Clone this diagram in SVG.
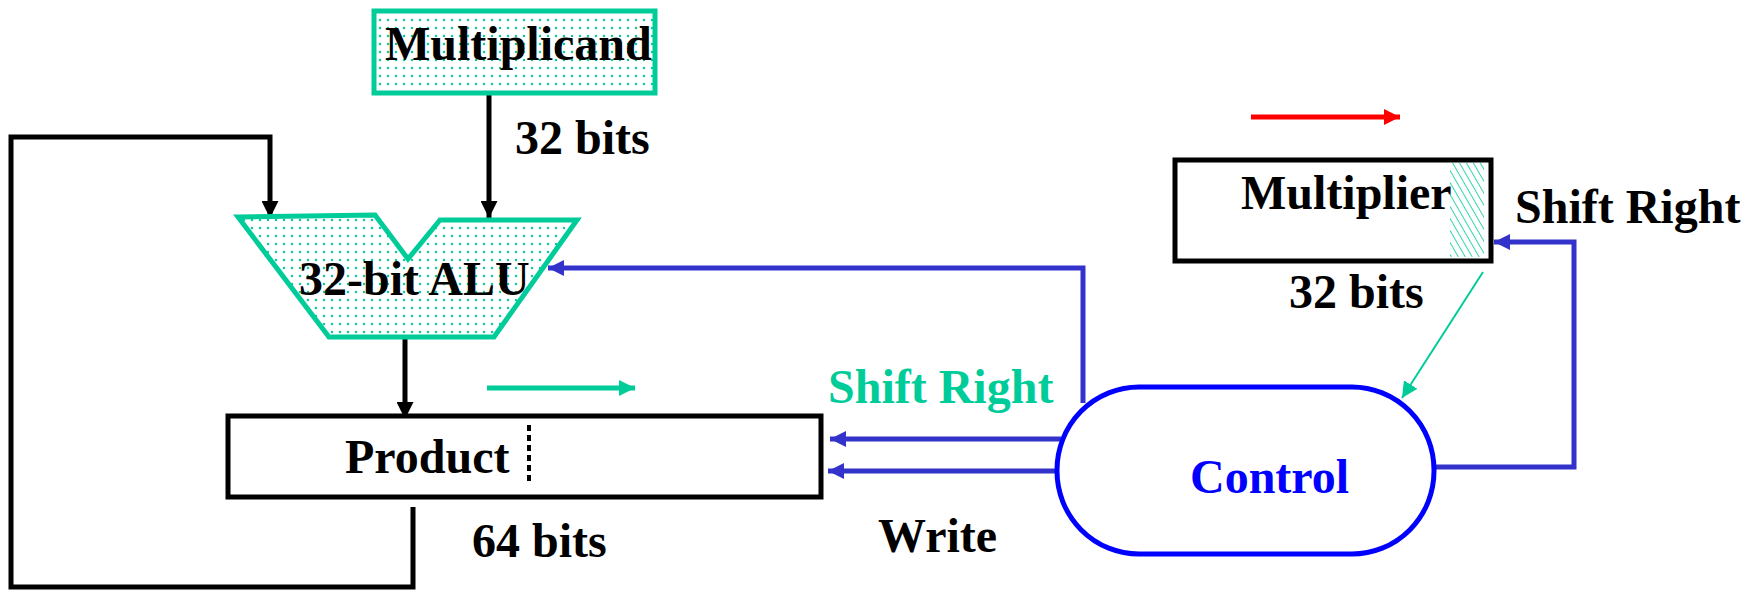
<svg xmlns="http://www.w3.org/2000/svg" width="1759" height="590" viewBox="0 0 1759 590">
  <style>
    .lbl { font-family: "Liberation Serif", "Times New Roman", serif; font-weight: bold; font-size: 48px; fill: #000; }
    .teal-lbl { fill: #00cc99; }
    .blue-lbl { fill: #0000ff; }
    .wire { fill: none; stroke: #000; stroke-width: 5; }
    .bus { fill: none; stroke: #3333cc; stroke-width: 5; }
    .reg { fill: #fff; stroke: #000; stroke-width: 5; }
    .unit { fill: url(#dots); stroke: #00cc99; stroke-width: 5; stroke-linejoin: miter; }
  </style>
  <defs>
    <pattern id="dots" width="8" height="8" patternUnits="userSpaceOnUse">
      <rect width="8" height="8" fill="#fff"/>
      <circle cx="4" cy="4" r="1.2" fill="#00cc99"/>
    </pattern>
    <pattern id="hatch" width="6" height="6" patternUnits="userSpaceOnUse" patternTransform="rotate(-30)">
      <rect width="6" height="6" fill="#fff"/>
      <line x1="0" y1="0" x2="0" y2="6" stroke="#00cc99" stroke-width="1.6"/>
    </pattern>
    <marker id="arrBlack" viewBox="0 0 16 16" refX="16" refY="8" markerWidth="17" markerHeight="17" markerUnits="userSpaceOnUse" orient="auto">
      <path d="M0,0 L16,8 L0,16 Z" fill="#000"/>
    </marker>
    <marker id="arrBlue" viewBox="0 0 16 16" refX="16" refY="8" markerWidth="16" markerHeight="16" markerUnits="userSpaceOnUse" orient="auto">
      <path d="M0,0 L16,8 L0,16 Z" fill="#3333cc"/>
    </marker>
    <marker id="arrTeal" viewBox="0 0 16 16" refX="16" refY="8" markerWidth="16" markerHeight="16" markerUnits="userSpaceOnUse" orient="auto">
      <path d="M0,0 L16,8 L0,16 Z" fill="#00cc99"/>
    </marker>
    <marker id="arrRed" viewBox="0 0 16 16" refX="16" refY="8" markerWidth="16" markerHeight="16" markerUnits="userSpaceOnUse" orient="auto">
      <path d="M0,0 L16,8 L0,16 Z" fill="#ff0000"/>
    </marker>
  </defs>

  <!-- connectors -->
  <g id="connectors">
    <!-- multiplicand into ALU -->
    <line class="wire" x1="489" y1="93" x2="489" y2="218" marker-end="url(#arrBlack)"/>
    <!-- product feedback loop into ALU -->
    <path class="wire" d="M413,507 V587 H11 V137 H270 V218" marker-end="url(#arrBlack)"/>
    <!-- ALU result into product -->
    <line class="wire" x1="405" y1="337" x2="405" y2="419" marker-end="url(#arrBlack)"/>
    <!-- control signals -->
    <path class="bus" d="M1083,403 V268 H548" marker-end="url(#arrBlue)"/>
    <line class="bus" x1="1061" y1="439" x2="830" y2="439" marker-end="url(#arrBlue)"/>
    <line class="bus" x1="1059" y1="471" x2="828" y2="471" marker-end="url(#arrBlue)"/>
    <path class="bus" d="M1434,467 H1574 V242 H1494" marker-end="url(#arrBlue)"/>
    <!-- multiplier bit 0 to control -->
    <line x1="1483" y1="272" x2="1402" y2="398" stroke="#00cc99" stroke-width="2" marker-end="url(#arrTeal)"/>
    <!-- shift direction hints -->
    <line x1="487" y1="388" x2="635" y2="388" stroke="#00cc99" stroke-width="5" marker-end="url(#arrTeal)"/>
    <line x1="1251" y1="117" x2="1400" y2="117" stroke="#ff0000" stroke-width="5" marker-end="url(#arrRed)"/>
  </g>

  <g id="multiplicand">
    <rect class="unit" x="374" y="11" width="281" height="82" stroke-width="4"/>
    <text class="lbl" x="385" y="60">Multiplicand</text>
  </g>
  <text class="lbl" x="515" y="154">32 bits</text>

  <g id="alu">
    <path class="unit" d="M238,217 L375,215 L408,259 L440,220 L577,220 L494,337 L329,337 Z"/>
    <text class="lbl" x="299" y="295">32-bit ALU</text>
  </g>

  <g id="product">
    <rect class="reg" x="228" y="416" width="593" height="81"/>
    <text class="lbl" x="345" y="473">Product</text>
    <line x1="529" y1="425" x2="529" y2="484" stroke="#000" stroke-width="4" stroke-dasharray="6,4"/>
  </g>
  <text class="lbl" x="472" y="557">64 bits</text>

  <g id="multiplier">
    <rect class="reg" x="1175" y="160" width="316" height="101"/>
    <rect x="1450" y="163" width="34" height="94" fill="url(#hatch)"/>
    <text class="lbl" x="1241" y="209">Multiplier</text>
  </g>
  <text class="lbl" x="1289" y="308">32 bits</text>
  <text class="lbl" x="1515" y="223">Shift Right</text>

  <g id="control">
    <rect x="1057" y="387" width="377" height="167" rx="82" ry="83" fill="#fff" stroke="#0000ff" stroke-width="5"/>
    <text class="lbl blue-lbl" x="1190" y="493">Control</text>
  </g>

  <text class="lbl teal-lbl" x="828" y="403">Shift Right</text>
  <text class="lbl" x="878" y="552">Write</text>
</svg>
